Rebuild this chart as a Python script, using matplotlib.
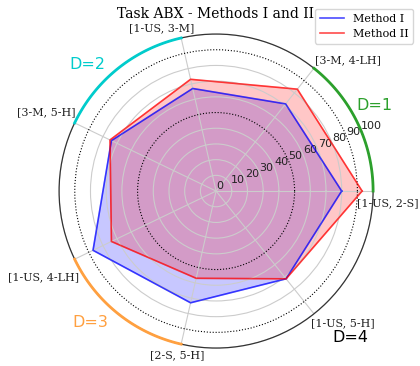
import numpy as np
import matplotlib
matplotlib.use("Agg")
import matplotlib.pyplot as plt

# categorias, a partir de 0 graus e no sentido anti-horario
categorias = ["[1-US, 2-S]", "[3-M, 4-LH]", "[1-US, 3-M]", "[3-M, 5-H]",
              "[1-US, 4-LH]", "[2-S, 5-H]", "[1-US, 5-H]"]
metodo_1 = [80, 71, 67, 74, 87, 73, 71.5]
metodo_2 = [93, 83, 73, 75, 74, 57, 71.5]
r_ticks = [0, 10, 20, 30, 40, 50, 60, 70, 80, 90, 100]

# grupos D: (texto, cor, categoria inicial, categoria final)
grupos = [("D=1", "#2ca02c", 0, 1), ("D=2", "#00cccc", 2, 3),
          ("D=3", "#ffa040", 4, 5)]

n = len(categorias)
ang = np.linspace(0, 2 * np.pi, n, endpoint=False)
ang_fech = np.append(ang, ang[0])

fig = plt.figure(figsize=(4.2, 3.66), dpi=100)
ax = fig.add_axes([0.1405, 0.049, 0.748, 0.858], projection="polar")

m1 = np.append(metodo_1, metodo_1[0])
m2 = np.append(metodo_2, metodo_2[0])
ax.plot(ang_fech, m1, color="b", alpha=0.7, lw=1.2, label="Method I")
ax.fill(ang_fech, m1, color="b", alpha=0.22)
ax.plot(ang_fech, m2, color="r", alpha=0.7, lw=1.2, label="Method II")
ax.fill(ang_fech, m2, color="r", alpha=0.22)

ax.set_ylim(0, 100)
ax.set_yticks(r_ticks)
ax.set_yticklabels([str(v) for v in r_ticks], fontsize=8, color="#222222")
ax.set_rlabel_position(22.5)
ax.set_xticks(ang)
ax.set_xticklabels([])
ax.grid(True, color="#cccccc", lw=0.8)
for v, g in zip(r_ticks, ax.yaxis.get_gridlines()):
    if v in (50, 90):
        g.set_color("black")
        g.set_linestyle(":")
ax.spines["polar"].set_color("#333333")
ax.spines["polar"].set_linewidth(0.9)

# rotulos das categorias
alinh = [("left", "top", -16, -7), ("left", "bottom", 1, 3),
         ("center", "bottom", -19, 5), ("right", "bottom", 1, 6),
         ("right", "top", 4, -13), ("center", "top", -4, -6),
         ("left", "top", -3, -4)]
for a, nome, (ha, va, dx, dy) in zip(ang, categorias, alinh):
    ax.annotate(nome, xy=(a, 100), xytext=(dx * 0.72, dy * 0.72),
                textcoords="offset points", ha=ha, va=va, fontsize=8,
                family="DejaVu Serif", color="#222222", annotation_clip=False)

# arcos dos grupos
for txt, cor, i0, i1 in grupos:
    t = np.linspace(ang[i0], ang[i1], 50)
    ax.plot(t, np.full_like(t, 100), color=cor, lw=2, clip_on=False,
            zorder=5)

pos_d = [(28.4, 115), (135.5, 114.6), (226.3, 116), (312.4, 126.5)]
cores_d = ["#2ca02c", "#00cccc", "#ffa040", "black"]
for (a, r), txt, cor in zip(pos_d, ["D=1", "D=2", "D=3", "D=4"], cores_d):
    ax.text(np.deg2rad(a), r, txt, color=cor, fontsize=11.5, ha="center",
            va="center", clip_on=False)

fig.text(0.512, 0.962, "Task ABX - Methods I and II", ha="center",
         va="center", fontsize=10, family="DejaVu Serif")
leg = fig.legend(loc="upper right", bbox_to_anchor=(0.997, 0.99),
                 prop={"family": "DejaVu Serif", "size": 8},
                 handlelength=2.2)

plt.savefig("out.png", dpi=100)
